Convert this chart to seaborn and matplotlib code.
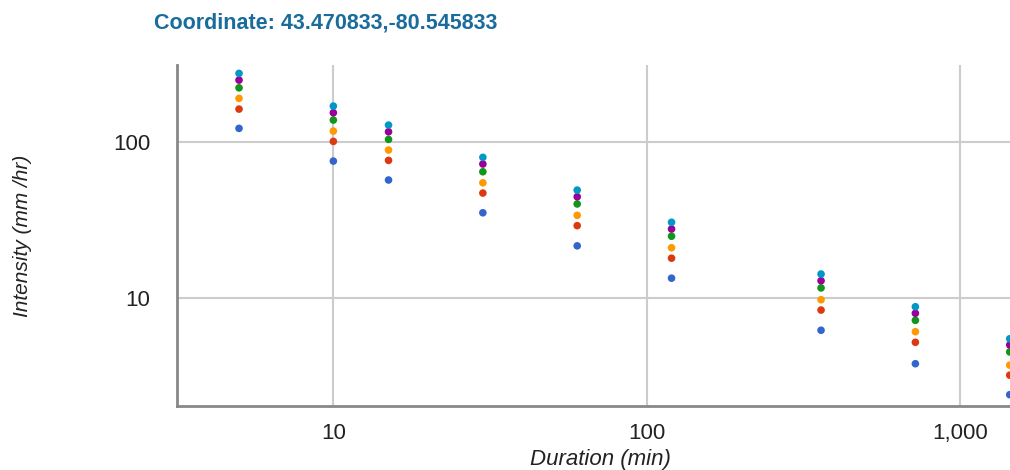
import matplotlib
matplotlib.use("Agg")
import matplotlib.pyplot as plt
from matplotlib.ticker import FixedLocator, FuncFormatter, NullLocator
import pandas as pd
import seaborn as sns

durations = [5, 10, 15, 30, 60, 120, 360, 720, 1440]
return_periods = ["2-Year", "5-Year", "10-Year", "25-Year", "50-Year", "100-Year"]
colors = ["#3366cc", "#dc3912", "#ff9900", "#109618", "#990099", "#0099c6"]

int_2yr = [122.4, 75.5, 57.1, 35.2, 21.6, 13.4, 6.21, 3.79, 2.40]
int_5yr = [162.7, 101.0, 76.3, 47.1, 29.1, 18.0, 8.37, 5.20, 3.20]
int_10yr = [190.6, 117.6, 88.9, 54.8, 33.9, 21.0, 9.75, 6.08, 3.71]
int_25yr = [222.7, 138.4, 104.0, 64.5, 40.1, 24.9, 11.6, 7.19, 4.51]
int_50yr = [249.6, 154.2, 116.4, 72.3, 44.6, 27.7, 12.9, 7.98, 5.00]
int_100yr = [275.6, 170.1, 128.5, 79.8, 49.2, 30.6, 14.25, 8.79, 5.48]

series = [int_2yr, int_5yr, int_10yr, int_25yr, int_50yr, int_100yr]

rows = []
for name, vals in zip(return_periods, series):
    for d, v in zip(durations, vals):
        rows.append({"Duration": d, "Intensity": v, "Return period": name})
df = pd.DataFrame(rows)

sns.set_style("white")
plt.rcParams["font.family"] = ["Liberation Sans", "DejaVu Sans"]

fig = plt.figure(figsize=(10.10, 4.70), dpi=100)
ax = fig.add_axes([177 / 1010, 1 - 406 / 470, 1 - 177 / 1010, (406 - 65) / 470])

sns.scatterplot(data=df, x="Duration", y="Intensity", hue="Return period",
                hue_order=return_periods, palette=colors, s=30, linewidth=0,
                legend=False, ax=ax, zorder=3)

ax.set_xscale("log")
ax.set_yscale("log")
ax.set_xlim(3.17, 1443)
ax.set_ylim(2.03, 312)

ax.xaxis.set_major_locator(FixedLocator([10, 100, 1000]))
ax.yaxis.set_major_locator(FixedLocator([10, 100]))
ax.xaxis.set_minor_locator(NullLocator())
ax.yaxis.set_minor_locator(NullLocator())
fmt = FuncFormatter(lambda v, p: f"{v:,.0f}")
ax.xaxis.set_major_formatter(fmt)
ax.yaxis.set_major_formatter(fmt)

ax.grid(True, color="#cccccc", linewidth=1.5, zorder=0)
ax.set_axisbelow(True)
ax.tick_params(length=0, labelsize=16, colors="#222222")
ax.tick_params(axis="y", pad=19)
ax.tick_params(axis="x", pad=12)

for side in ["top", "right"]:
    ax.spines[side].set_visible(False)
for side in ["left", "bottom"]:
    ax.spines[side].set_color("#888888")
    ax.spines[side].set_linewidth(2)

ax.set_xlabel("Duration (min)", fontsize=16, style="italic", color="#222222")
ax.xaxis.set_label_coords(0.508, -0.125)
ax.set_ylabel("Intensity (mm /hr)", fontsize=15, style="italic", color="#222222")
ax.yaxis.set_label_coords(-145 / 833, 0.5)

fig.text(154 / 1010, 1 - 23 / 470, "Coordinate: 43.470833,-80.545833", fontsize=15.5,
         fontweight="bold", color="#1a6c9c", ha="left", va="center")

fig.savefig("out.png", dpi=100)
